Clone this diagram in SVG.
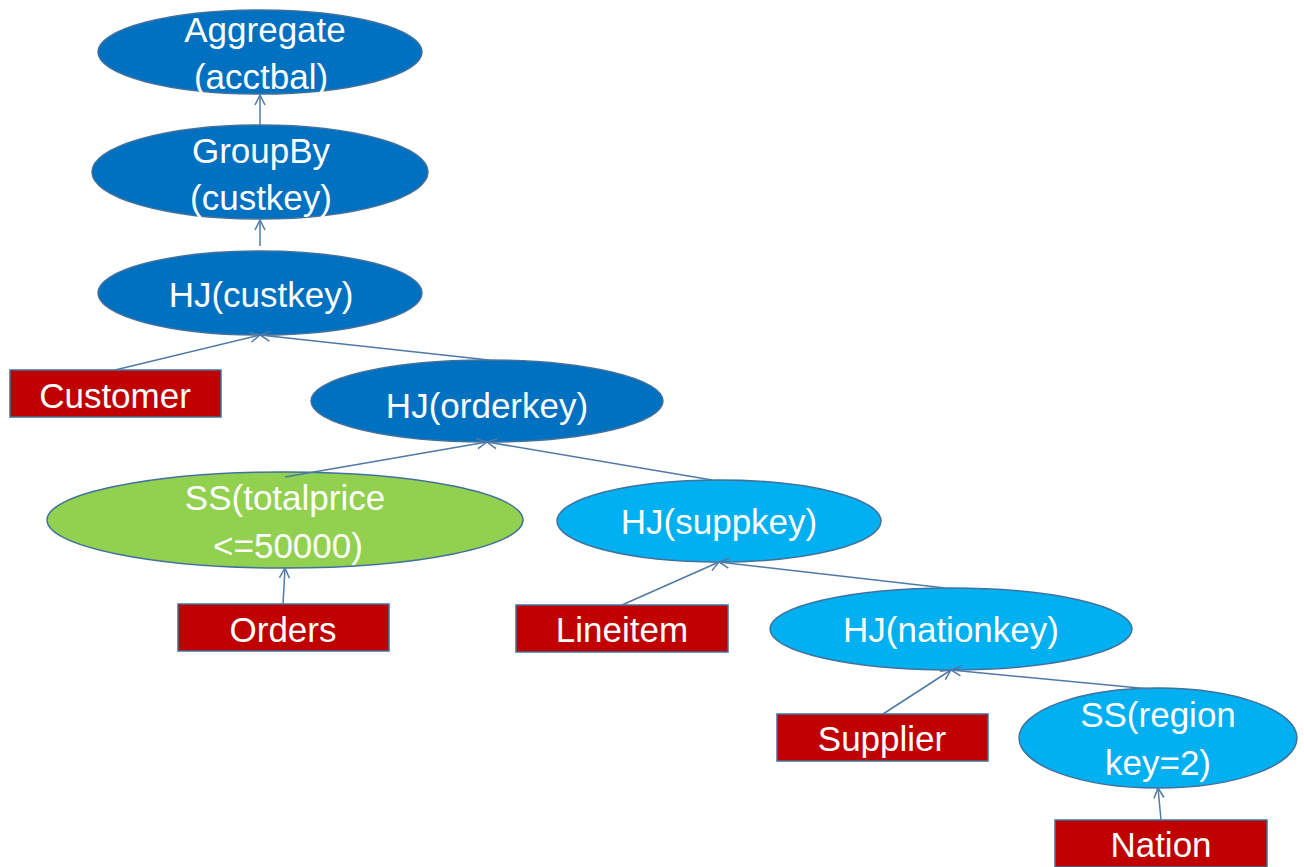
<svg xmlns="http://www.w3.org/2000/svg" width="1304" height="867" viewBox="0 0 1304 867">
<defs>
<marker id="arr" viewBox="0 0 12 12" refX="11" refY="6" markerWidth="12" markerHeight="12" markerUnits="userSpaceOnUse" orient="auto">
<path d="M1,1 L11,6 L1,11" fill="none" stroke="#4F79A6" stroke-width="1.5"/>
</marker>
<style>
.dk{fill:#0070C0;stroke:#41719C;stroke-width:1.5}
.lt{fill:#00B0F0;stroke:#41719C;stroke-width:1.5}
.gr{fill:#92D050;stroke:#41719C;stroke-width:1.5}
.rd{fill:#C00000;stroke:#41719C;stroke-width:1.5}
.t{font-family:"Liberation Sans",Arial,sans-serif;font-size:35px;fill:#FFFFFF;text-anchor:middle}
.c line{stroke:#4F79A6;stroke-width:1.5;marker-end:url(#arr)}
</style>
</defs>
<rect width="1304" height="867" fill="#FFFFFF"/>
<g id="aggregate"><ellipse class="dk" cx="260" cy="52" rx="162" ry="42"/><text class="t" x="265" y="42">Aggregate</text><text class="t" x="261" y="89">(acctbal)</text></g>
<g id="groupby"><ellipse class="dk" cx="260" cy="172" rx="168" ry="47"/><text class="t" x="261" y="163">GroupBy</text><text class="t" x="261" y="210">(custkey)</text></g>
<g id="hj-custkey"><ellipse class="dk" cx="260" cy="293" rx="162" ry="42"/><text class="t" x="261" y="307">HJ(custkey)</text></g>
<g id="customer"><rect class="rd" x="10" y="370" width="211" height="47"/><text class="t" x="115" y="408">Customer</text></g>
<g id="hj-orderkey"><ellipse class="dk" cx="487" cy="401" rx="176" ry="41"/><text class="t" x="487" y="418">HJ(orderkey)</text></g>
<g id="ss-totalprice"><ellipse class="gr" cx="285" cy="520" rx="238" ry="48"/><text class="t" x="285" y="510">SS(totalprice</text><text class="t" x="288" y="558">&lt;=50000)</text></g>
<g id="hj-suppkey"><ellipse class="lt" cx="719" cy="521" rx="162" ry="41"/><text class="t" x="719" y="534">HJ(suppkey)</text></g>
<g id="orders"><rect class="rd" x="178" y="604" width="211" height="47"/><text class="t" x="283" y="642">Orders</text></g>
<g id="lineitem"><rect class="rd" x="516" y="605" width="212" height="47"/><text class="t" x="622" y="642">Lineitem</text></g>
<g id="hj-nationkey"><ellipse class="lt" cx="951" cy="629" rx="181" ry="41"/><text class="t" x="951" y="642">HJ(nationkey)</text></g>
<g id="supplier"><rect class="rd" x="777" y="714" width="211" height="47"/><text class="t" x="882" y="751">Supplier</text></g>
<g id="ss-regionkey"><ellipse class="lt" cx="1158" cy="738" rx="139" ry="50"/><text class="t" x="1158" y="727">SS(region</text><text class="t" x="1158" y="775">key=2)</text></g>
<g id="nation"><rect class="rd" x="1055" y="820" width="212" height="47"/><text class="t" x="1161" y="857">Nation</text></g>
<g class="c" id="connectors">
<line x1="260" y1="125" x2="260" y2="95"/>
<line x1="260" y1="246" x2="260" y2="220"/>
<line x1="115" y1="370" x2="260" y2="335"/>
<line x1="489" y1="360" x2="260" y2="335"/>
<line x1="285" y1="477" x2="487" y2="442"/>
<line x1="712" y1="480" x2="487" y2="442"/>
<line x1="283" y1="604" x2="285" y2="568"/>
<line x1="622" y1="605" x2="719" y2="562"/>
<line x1="945" y1="588" x2="719" y2="562"/>
<line x1="883" y1="714" x2="951" y2="670"/>
<line x1="1150" y1="689" x2="951" y2="670"/>
<line x1="1161" y1="820" x2="1158" y2="788"/>
</g>
</svg>
